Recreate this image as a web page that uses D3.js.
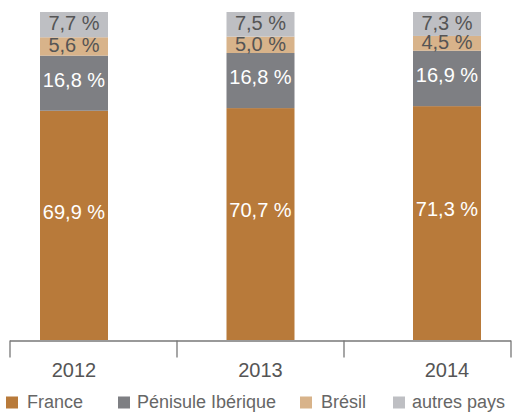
<!DOCTYPE html>
<html>
<head>
<meta charset="utf-8">
<script src="https://cdn.jsdelivr.net/npm/d3@7"></script>
<style>
  html, body { margin: 0; padding: 0; background: #fff; }
  svg { display: block; font-family: "Liberation Sans", Arial, Helvetica, sans-serif; }
</style>
</head>
<body>
<svg id="chart" width="512" height="412"></svg>
<script>
// Répartition du chiffre d'affaires par zone géographique (%)
const years = ["2012", "2013", "2014"];
const seriesNames = ["France", "Pénisule Ibérique", "Brésil", "autres pays"];
const france = [69.9, 70.7, 71.3];
const peninsule = [16.8, 16.8, 16.9];
const bresil = [5.6, 5.0, 4.5];
const autres = [7.7, 7.5, 7.3];

const colors = ["#b87a3a", "#7e7f83", "#d8b38a", "#bebfc3"];
const labelColors = ["#ffffff", "#ffffff", "#555555", "#555555"];

const rows = years.map((y, i) => ({
  year: y,
  "France": france[i],
  "Pénisule Ibérique": peninsule[i],
  "Brésil": bresil[i],
  "autres pays": autres[i]
}));

const stacked = d3.stack().keys(seriesNames)(rows);

const svg = d3.select("#chart");

const x = d3.scaleBand()
  .domain(years)
  .range([40, 481])
  .paddingInner(0.6354)
  .paddingOuter(0);

const y = d3.scaleLinear().domain([0, 100]).range([340, 12]);

const fmt = v => d3.format(".1f")(v).replace(".", ",") + " %";

// Stacked bars
const layers = svg.append("g").selectAll("g")
  .data(stacked)
  .join("g")
  .attr("fill", (d, i) => colors[i]);

layers.selectAll("rect")
  .data(d => d)
  .join("rect")
  .attr("x", d => x(d.data.year))
  .attr("width", x.bandwidth())
  .attr("y", d => y(d[1]))
  .attr("height", d => y(d[0]) - y(d[1]));

// Value labels inside segments
stacked.forEach((layer, li) => {
  svg.append("g").selectAll("text")
    .data(layer)
    .join("text")
    .attr("x", d => x(d.data.year) + x.bandwidth() / 2)
    .attr("y", d => y(d[1]) + (y(d[0]) - y(d[1])) * 0.44)
    .attr("dy", "0.35em")
    .attr("text-anchor", "middle")
    .attr("font-size", 20)
    .attr("fill", labelColors[li])
    .text(d => fmt(d[1] - d[0]));
});

// Axis line with separator ticks
const sep = d3.scaleLinear().domain([0, years.length]).range([9.5, 510.5]);
const axis = svg.append("g")
  .attr("transform", "translate(0,340.5)")
  .call(d3.axisBottom(sep)
    .tickValues(d3.range(years.length + 1))
    .tickSize(17)
    .tickSizeOuter(0)
    .tickFormat(""));
axis.select(".domain").attr("stroke", "#777").attr("stroke-width", 1.3);
axis.selectAll(".tick line").attr("stroke", "#777").attr("stroke-width", 1.3);

// Year labels under each bar
svg.append("g").selectAll("text")
  .data(years)
  .join("text")
  .attr("x", d => x(d) + x.bandwidth() / 2)
  .attr("y", 377)
  .attr("text-anchor", "middle")
  .attr("font-size", 20)
  .attr("fill", "#555")
  .text(d => d);

// Legend
const legendX = [6, 118, 300, 393];
const legend = svg.append("g").selectAll("g")
  .data(seriesNames)
  .join("g")
  .attr("transform", (d, i) => `translate(${legendX[i]},0)`);

legend.append("rect")
  .attr("x", 0)
  .attr("y", 396.5)
  .attr("width", 12)
  .attr("height", 12)
  .attr("fill", (d, i) => colors[i]);

legend.append("text")
  .attr("x", (d, i) => [21, 19, 21, 19][i])
  .attr("y", 407.5)
  .attr("font-size", 18)
  .attr("fill", "#666")
  .text(d => d);
</script>
</body>
</html>
